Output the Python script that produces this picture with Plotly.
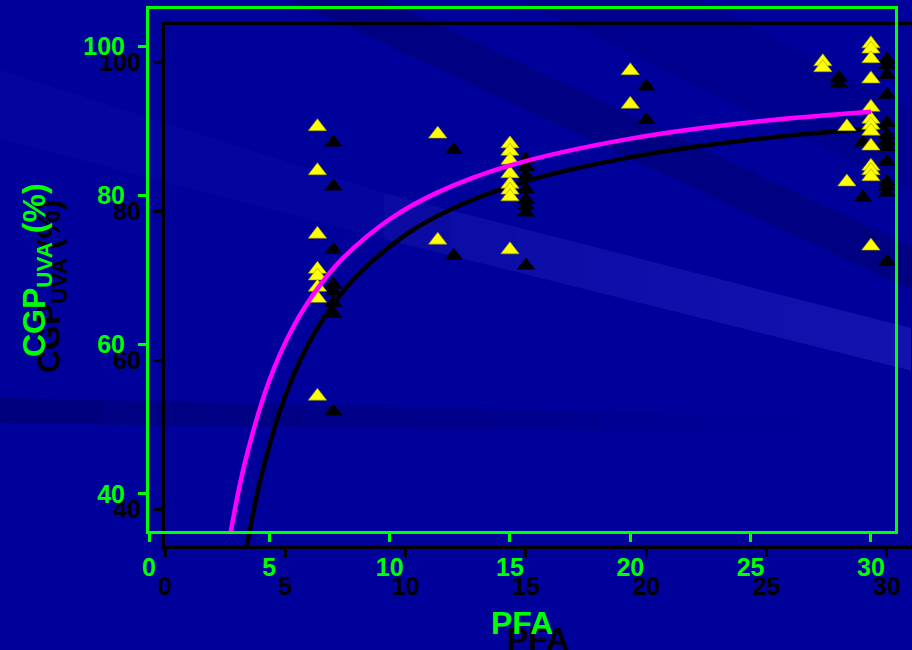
import plotly.graph_objects as go

# ---------------- data ----------------
pfa = [7, 7, 7, 7, 7, 7, 7, 7,
       12, 12,
       15, 15, 15, 15, 15, 15, 15, 15,
       20, 20,
       28, 28,
       29, 29,
       30, 30, 30, 30, 30, 30, 30, 30, 30, 30, 30, 30, 30]
cgp_uva = [89.2, 83.3, 74.8, 70.1, 69.2, 67.7, 66.2, 53.1,
           88.2, 74.0,
           86.9, 85.9, 84.7, 82.9, 81.5, 80.7, 79.8, 72.7,
           96.7, 92.2,
           97.9, 97.1,
           89.2, 81.8,
           100.3, 99.6, 98.3, 95.6, 91.8, 90.2, 89.4, 88.6, 86.6, 83.9, 83.3, 82.5, 73.2]

fit_pfa = [3.4, 4, 5, 6, 7, 8, 10, 12, 15, 20, 25, 30]
fit_cgp = [35.0, 44.4, 55.2, 62.4, 67.5, 71.4, 76.8, 80.4, 84.0, 87.6, 89.8, 91.2]

x_ticks = [0, 5, 10, 15, 20, 25, 30]
y_ticks = [40, 60, 80, 100]
x_title = "PFA"
y_title = "CGP<sub>UVA</sub> (%)"

# ---------------- styling ----------------
W, H = 912, 650
FONT = "Liberation Sans, Arial, sans-serif"
GREEN = "#00ff00"
YELLOW = "#ffff00"
MAGENTA = "#ff00ff"
BG = "#00009a"


def fx(p):
    return p / W


def fy(p):
    return 1 - p / H


def poly(points, color):
    d = "M " + " L ".join(f"{fx(x):.4f},{fy(y):.4f}" for x, y in points) + " Z"
    return dict(type="path", path=d, xref="paper", yref="paper",
                fillcolor=color, line=dict(width=0), layer="below")


fig = go.Figure()

# shadow layer (black), drawn first
fig.add_trace(go.Scatter(x=pfa, y=cgp_uva, mode="markers", xaxis="x", yaxis="y",
                         marker=dict(symbol="triangle-up", size=16, color="black"),
                         showlegend=False, hoverinfo="skip"))
fig.add_trace(go.Scatter(x=fit_pfa, y=fit_cgp, mode="lines", xaxis="x", yaxis="y",
                         line=dict(color="black", width=4.5, shape="spline"),
                         showlegend=False, hoverinfo="skip"))
# front layer (green axes)
fig.add_trace(go.Scatter(x=pfa, y=cgp_uva, mode="markers", xaxis="x2", yaxis="y2",
                         marker=dict(symbol="triangle-up", size=16, color=YELLOW,
                                     line=dict(color="#9a9a00", width=0.6)),
                         showlegend=False))
fig.add_trace(go.Scatter(x=fit_pfa, y=fit_cgp, mode="lines", xaxis="x2", yaxis="y2",
                         line=dict(color=MAGENTA, width=4.5, shape="spline"),
                         showlegend=False))


def axis(color, domain, rng, ticks, standoff):
    return dict(domain=domain, range=rng, tickvals=ticks, showgrid=False, zeroline=False,
                showline=True, mirror=True, linewidth=3, linecolor=color,
                ticks="outside", ticklen=8, tickwidth=3, tickcolor=color,
                ticklabelstandoff=standoff,
                tickfont=dict(family=FONT, size=25, color=color, weight="bold"),
                automargin=False, fixedrange=True)


# pixel geometry: green axes x 0->149, 31->895 ; y 105->8.7, 35->531.3
#                 black axes x 0->165, 31->911 ; y 105->24.75, 35->546.25
layout_axes = dict(
    xaxis=axis("black", [fx(165), fx(911)], [0, 31], x_ticks, 8) | dict(anchor="y"),
    yaxis=axis("black", [fy(546.25), fy(24.75)], [35, 105], y_ticks, 8) | dict(anchor="x"),
    xaxis2=axis(GREEN, [fx(149), fx(895)], [0, 31], x_ticks, 4) | dict(anchor="y2"),
    yaxis2=axis(GREEN, [fy(531.3), fy(8.7)], [35, 105], y_ticks, 8) | dict(anchor="x2"),
)

shapes = [
    # faint lighter band on the left
    poly([(0, 70), (384, 193), (384, 239), (0, 139)], "rgba(40,40,200,0.10)"),
    # darker diagonal bands
    poly([(291, 0), (386, 0), (912, 247), (912, 290)], "rgba(0,0,60,0.25)"),
    poly([(520, 0), (700, 0), (912, 110), (912, 190)], "rgba(0,0,60,0.12)"),
]


def band_y(x, y0, y1):
    return y0 + (y1 - y0) * (x - 384) / 528


# lighter diagonal band, brightening gradually to the right (nested layers, no seams)
shapes.append(poly([(384, 193), (912, 328), (912, 371), (384, 239)], "rgba(90,90,235,0.12)"))
for i in range(1, 8):
    xa = 384 + 528 * i / 8
    shapes.append(poly([(xa, band_y(xa, 193, 328)), (912, 328), (912, 371),
                        (xa, band_y(xa, 239, 371))], "rgba(90,90,235,0.025)"))

# darker near-horizontal band, fading to the right (nested layers)
for i in range(1, 9):
    xb = 800 * i / 8
    shapes.append(poly([(0, 398), (xb, 398 + 18 * xb / 800), (xb, 423 + 10 * xb / 800),
                        (0, 423)], "rgba(0,0,60,0.035)"))

annotations = [
    dict(text=x_title, x=fx(538), y=fy(639), xref="paper", yref="paper", showarrow=False,
         font=dict(family=FONT, size=32, color="black", weight="bold"),
         xanchor="center", yanchor="middle"),
    dict(text=x_title, x=fx(522), y=fy(623), xref="paper", yref="paper", showarrow=False,
         font=dict(family=FONT, size=32, color=GREEN, weight="bold"),
         xanchor="center", yanchor="middle"),
    dict(text=y_title, x=fx(52), y=fy(286), xref="paper", yref="paper", showarrow=False,
         textangle=-90, font=dict(family=FONT, size=32, color="black", weight="bold"),
         xanchor="center", yanchor="middle"),
    dict(text=y_title, x=fx(36), y=fy(270), xref="paper", yref="paper", showarrow=False,
         textangle=-90, font=dict(family=FONT, size=32, color=GREEN, weight="bold"),
         xanchor="center", yanchor="middle"),
]

fig.update_layout(
    width=W, height=H, autosize=False,
    margin=dict(l=0, r=0, t=0, b=0),
    paper_bgcolor=BG, plot_bgcolor="rgba(0,0,0,0)",
    showlegend=False,
    shapes=shapes, annotations=annotations,
    **layout_axes,
)

fig.write_html("out.html",
               config={"displayModeBar": False},
               post_script="document.body.style.margin='0';document.body.style.padding='0';"
                           "document.body.style.overflow='hidden';")
